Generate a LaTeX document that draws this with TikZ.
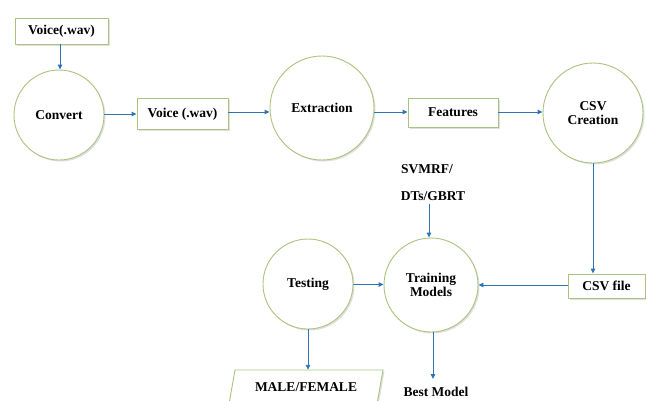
\documentclass[tikz,border=0pt]{standalone}
\usepackage{fontspec}
\newfontfamily\tnr{Liberation Serif}
\usetikzlibrary{arrows.meta,shadows}
\definecolor{gline}{HTML}{A9C47F}
\definecolor{barrow}{HTML}{2E75B6}
\tikzset{
  txt/.style={font=\tnr\fontsize{13.5}{14.5}\selectfont\bfseries, align=center},
  shad/.style={drop shadow={opacity=0.25, shadow xshift=1.5pt, shadow yshift=-1.5pt}},
  circ/.style={txt, circle, draw=gline, line width=0.9pt, fill=white, inner sep=0pt, shad},
  box/.style={txt, rectangle, draw=gline, line width=0.9pt, fill=white, inner sep=0pt, shad},
  conn/.style={draw=barrow, line width=0.9pt, -{Triangle[length=5pt,width=4.5pt]}}
}
\begin{document}
\begin{tikzpicture}[x=1pt,y=-1pt]
\useasboundingbox (0,0) rectangle (646,400);
\clip (0,0) rectangle (646,400);
% parallelogram outline (drawn first)
\path[draw=gline, line width=0.9pt, fill=white, shad]
  (235,370) -- (383,370) -- (377,404) -- (229,404) -- cycle;
% nodes
\node[box, minimum width=93pt, minimum height=26pt] (v1) at (61.5,31) {Voice(.wav)};
\node[circ, minimum size=90pt] (conv) at (59,115) {Convert};
\node[box, minimum width=91pt, minimum height=31pt] (v2) at (182.5,114) {Voice (.wav)};
\node[circ, minimum size=104pt] (ext) at (322,108) {Extraction};
\node[box, minimum width=90pt, minimum height=29pt] (feat) at (453,112.5) {Features};
\node[circ, minimum size=100pt] (csv) at (593,113) {CSV\\Creation};
\node[box, minimum width=77pt, minimum height=24pt] (file) at (606.5,286) {CSV file};
\node[circ, minimum size=94pt] (train) at (431,285) {Training\\Models};
\node[circ, minimum size=90pt] (test) at (308,284) {Testing};
\node[txt] (alg1) at (427,169) {SVMRF/};
\node[txt] (alg2) at (433,196) {DTs/GBRT};
\node[txt] (best) at (436,392) {Best Model};
\node[txt, inner sep=0pt, minimum height=34pt] (mf) at (306,387) {MALE/FEMALE};
\coordinate (bm) at (433,379);
% connectors
\draw[conn] (v1.south -| 60,0) -- (conv.north -| 60,0);
\draw[conn] (conv.east |- 0,114) -- (v2.west |- 0,114);
\draw[conn] (v2.east |- 0,112) -- (ext.west |- 0,112);
\draw[conn] (ext.east |- 0,112) -- (feat.west |- 0,112);
\draw[conn] (feat.east |- 0,112) -- (csv.west |- 0,112);
\draw[conn] (csv.south) -- (csv.south |- file.north);
\draw[conn] (file.west |- 0,285) -- (train.east);
\draw[conn] (alg2.south -| 429,0) -- (train.north -| 429,0);
\draw[conn] (test.east |- 0,284.5) -- (train.west |- 0,284.5);
\draw[conn] (test.south) -- (test.south |- mf.north);
\draw[conn] (train.south -| bm) -- (bm);
\end{tikzpicture}
\end{document}
